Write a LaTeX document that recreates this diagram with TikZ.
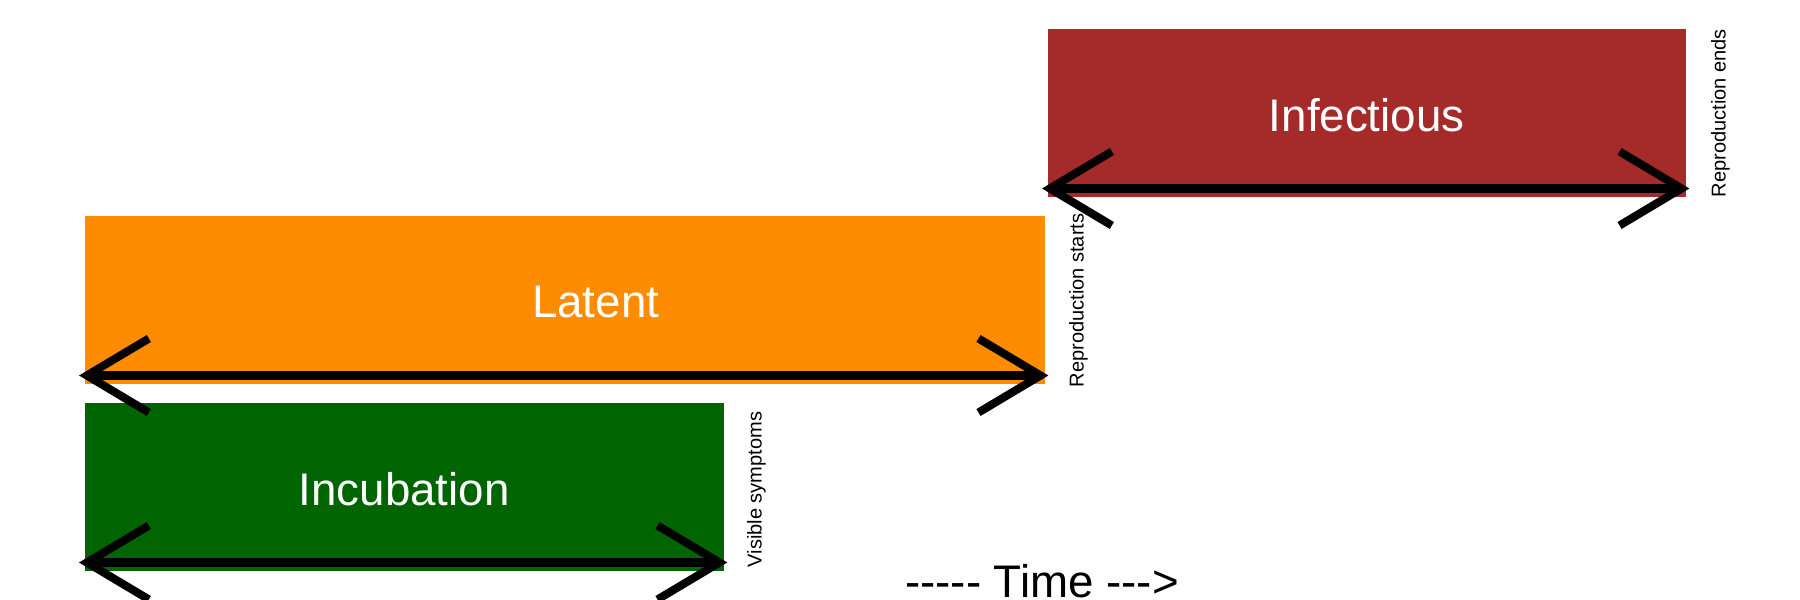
\documentclass[tikz,border=0pt]{standalone}
\usepackage{fontspec}
\setmainfont{Liberation Sans}
\usetikzlibrary{arrows.meta}
\definecolor{infred}{HTML}{A52A2A}
\definecolor{latorange}{HTML}{FF8C00}
\definecolor{incgreen}{HTML}{006400}
\begin{document}
\begin{tikzpicture}[line join=miter,>={Straight Barb[length=0.62cm,width=0.74cm]},
        phase/.style={draw=none,inner sep=0pt,anchor=south west,minimum height=1.68cm},
        phasename/.style={text=white,inner sep=0pt,font=\fontsize{13}{15}\selectfont},
        span/.style={<->,line width=2.3pt},
        marker/.style={rotate=90,anchor=west,inner sep=0pt,font=\fontsize{5.7}{7}\selectfont}]
            \useasboundingbox (0,0) rectangle (18,6);
            \def\up{0.095}
            % phases
            \node[phase,fill=infred,minimum width=6.38cm] (infectious) at (10.47,4.02) {};
            \node[phase,fill=latorange,minimum width=9.60cm] (latent) at (0.84,2.15) {};
            \node[phase,fill=incgreen,minimum width=6.39cm] (incubation) at (0.84,0.28) {};
            \node[phasename] (infname) at ([yshift=-0.02cm]infectious.center) {Infectious};
            \node[phasename] (latname) at ([xshift=0.31cm,yshift=-0.02cm]latent.center) {Latent};
            \node[phasename] (incname) at ([yshift=-0.02cm]incubation.center) {Incubation};
            % spans
            \draw[span] ([xshift=-0.05cm,yshift=\up cm]infectious.south west) -- ([xshift=0.03cm,yshift=\up cm]infectious.south east);
            \draw[span] ([xshift=-0.05cm,yshift=\up cm]latent.south west) -- ([xshift=0.03cm,yshift=\up cm]latent.south east);
            \draw[span] ([xshift=-0.05cm,yshift=\up cm]incubation.south west) -- ([xshift=0.03cm,yshift=\up cm]incubation.south east);
            % events
            \node[marker] (ends) at ([xshift=0.34cm]infectious.south east) {Reproduction ends};
            \node[marker] (starts) at ([xshift=0.33cm,yshift=-0.03cm]latent.south east) {Reproduction starts};
            \node[marker] (symptoms) at ([xshift=0.32cm,yshift=0.04cm]incubation.south east) {Visible symptoms};
            \node[anchor=base,inner sep=0pt,font=\fontsize{13}{15}\selectfont] (time) at (10.42,0.03) {-\kern0pt-\kern0pt-\kern0pt-\kern0pt- Time -\kern0pt-\kern0pt->};
\end{tikzpicture}
\end{document}
